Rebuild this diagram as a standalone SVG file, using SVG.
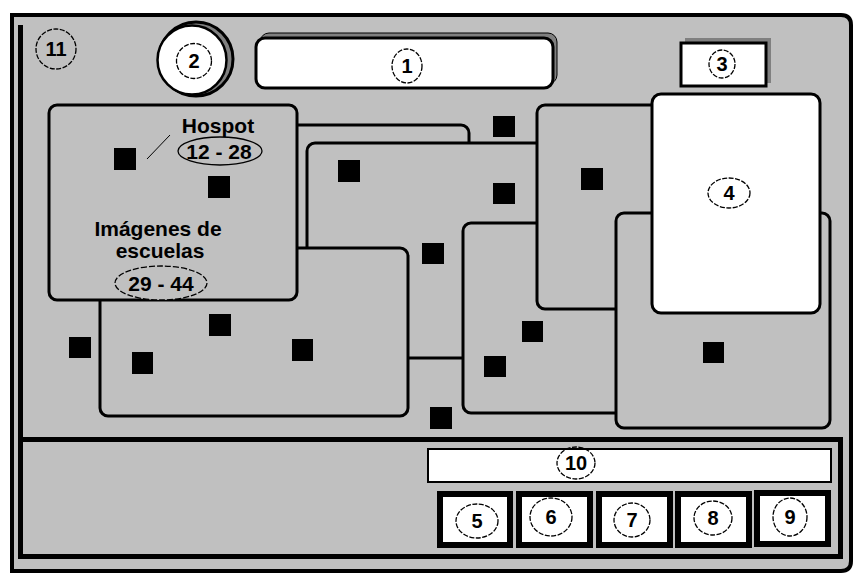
<svg xmlns="http://www.w3.org/2000/svg" width="856" height="574" viewBox="0 0 856 574">
<style>
.box{fill:#c0c0c0;stroke:#000;stroke-width:3}
.wbox{fill:#fff;stroke:#000;stroke-width:3}
.sq{fill:#000}
.el{fill:none;stroke:#000;stroke-width:1.3;stroke-dasharray:5 1.5}
.num{font-family:"Liberation Sans",Arial,sans-serif;font-weight:bold;font-size:20px;text-anchor:middle;fill:#000}
.lbl{font-family:"Liberation Sans",Arial,sans-serif;font-weight:bold;font-size:21px;text-anchor:middle;fill:#000}
.btn{fill:#fff;stroke:#000;stroke-width:6}
</style>
<rect width="856" height="574" fill="#fff"/>
<g id="frame">
<path d="M12 15 H841 Q851 15 851 25 V561 Q851 571 841 571 H12 Z" fill="#c0c0c0" stroke="#000" stroke-width="4"/>
<line x1="20.5" y1="25" x2="20.5" y2="557" stroke="#000" stroke-width="5"/>
</g>
<g id="node-11">
<circle cx="56" cy="49" r="20" class="el"/>
<text x="56" y="56" class="num">11</text>
</g>
<g id="node-2">
<circle cx="196" cy="59" r="37" fill="#808080" stroke="#000" stroke-width="3"/>
<circle cx="192" cy="60" r="34.5" fill="#fff" stroke="#000" stroke-width="2.5"/>
<circle cx="194" cy="61" r="17.5" class="el"/>
<text x="194" y="68" class="num">2</text>
</g>
<g id="node-1">
<rect x="260" y="33" width="297" height="51" rx="9" fill="#808080" stroke="#000" stroke-width="1"/>
<rect x="256" y="38" width="297" height="50" rx="9" class="wbox"/>
<ellipse cx="407" cy="66" rx="15" ry="17" class="el"/>
<text x="407" y="73" class="num">1</text>
</g>
<g id="node-3">
<rect x="685" y="38" width="86" height="45" fill="#808080"/>
<rect x="681" y="43" width="85" height="43" class="wbox"/>
<ellipse cx="722" cy="64" rx="13" ry="14" class="el"/>
<text x="722" y="71" class="num">3</text>
</g>
<g id="node-C"><rect x="200" y="125" width="269" height="130" rx="8" class="box"/></g>
<g id="node-D"><rect x="307" y="143" width="300" height="215" rx="8" class="box"/></g>
<g id="node-B"><rect x="100" y="248" width="308" height="168" rx="8" class="box"/></g>
<g id="node-A">
<rect x="49" y="105" width="248" height="195" rx="8" class="box"/>
<text x="218" y="133" class="lbl" font-size="22">Hospot</text>
<line x1="147" y1="159" x2="170" y2="135" stroke="#000" stroke-width="1"/>
<ellipse cx="220" cy="151" rx="42" ry="14" fill="#c0c0c0" stroke="#000" stroke-width="1.3"/>
<text x="219" y="159" class="lbl">12 - 28</text>
<text x="158" y="236" class="lbl">Imágenes de</text>
<text x="160" y="258" class="lbl">escuelas</text>
<ellipse cx="161" cy="283" rx="46" ry="17" fill="#c0c0c0" stroke="#000" stroke-width="1.3" stroke-dasharray="6 2"/>
<text x="161" y="291" class="lbl">29 - 44</text>
</g>
<g id="node-F"><rect x="463" y="223" width="200" height="190" rx="8" class="box"/></g>
<g id="node-E"><rect x="537" y="105" width="150" height="204" rx="8" class="box"/></g>
<g id="node-G"><rect x="616" y="213" width="214" height="215" rx="8" class="box"/></g>
<g id="node-4">
<rect x="652" y="94" width="168" height="219" rx="9" class="wbox"/>
<ellipse cx="729" cy="193" rx="21" ry="15" class="el"/>
<text x="729" y="200" class="num">4</text>
</g>
<g id="squares">
<rect x="114" y="148" width="22" height="22" class="sq"/>
<rect x="208" y="176" width="22" height="22" class="sq"/>
<rect x="338" y="160" width="22" height="22" class="sq"/>
<rect x="493" y="116" width="22" height="21" class="sq"/>
<rect x="493" y="183" width="22" height="21" class="sq"/>
<rect x="422" y="243" width="22" height="21" class="sq"/>
<rect x="581" y="168" width="22" height="22" class="sq"/>
<rect x="522" y="321" width="21" height="21" class="sq"/>
<rect x="484" y="356" width="22" height="21" class="sq"/>
<rect x="430" y="407" width="22" height="22" class="sq"/>
<rect x="703" y="342" width="21" height="21" class="sq"/>
<rect x="209" y="314" width="22" height="22" class="sq"/>
<rect x="69" y="337" width="22" height="21" class="sq"/>
<rect x="132" y="352" width="21" height="22" class="sq"/>
<rect x="292" y="339" width="21" height="22" class="sq"/>
</g>
<g id="bottom-panel">
<rect x="20.5" y="439.5" width="820" height="117" fill="#c0c0c0" stroke="#000" stroke-width="5"/>
</g>
<g id="node-10">
<rect x="428" y="449" width="403" height="33" fill="#fff" stroke="#000" stroke-width="2"/>
<ellipse cx="576" cy="463" rx="19" ry="16" class="el"/>
<text x="576" y="470" class="num">10</text>
</g>
<g id="node-5">
<rect x="440" y="494" width="70" height="51" class="btn"/>
<ellipse cx="477" cy="521" rx="21" ry="17" class="el"/>
<text x="477" y="528" class="num">5</text>
</g>
<g id="node-6">
<rect x="519" y="494" width="71" height="51" class="btn"/>
<ellipse cx="551" cy="517" rx="21" ry="19" class="el"/>
<text x="551" y="524" class="num">6</text>
</g>
<g id="node-7">
<rect x="599" y="494" width="71" height="51" class="btn"/>
<ellipse cx="632" cy="520" rx="18" ry="17" class="el"/>
<text x="632" y="527" class="num">7</text>
</g>
<g id="node-8">
<rect x="678" y="494" width="71" height="51" class="btn"/>
<ellipse cx="713" cy="518" rx="19" ry="17" class="el"/>
<text x="713" y="525" class="num">8</text>
</g>
<g id="node-9">
<rect x="757" y="493" width="71" height="51" class="btn"/>
<ellipse cx="790" cy="517" rx="17" ry="19" class="el"/>
<text x="790" y="524" class="num">9</text>
</g>
<g id="connectors"></g>
</svg>
